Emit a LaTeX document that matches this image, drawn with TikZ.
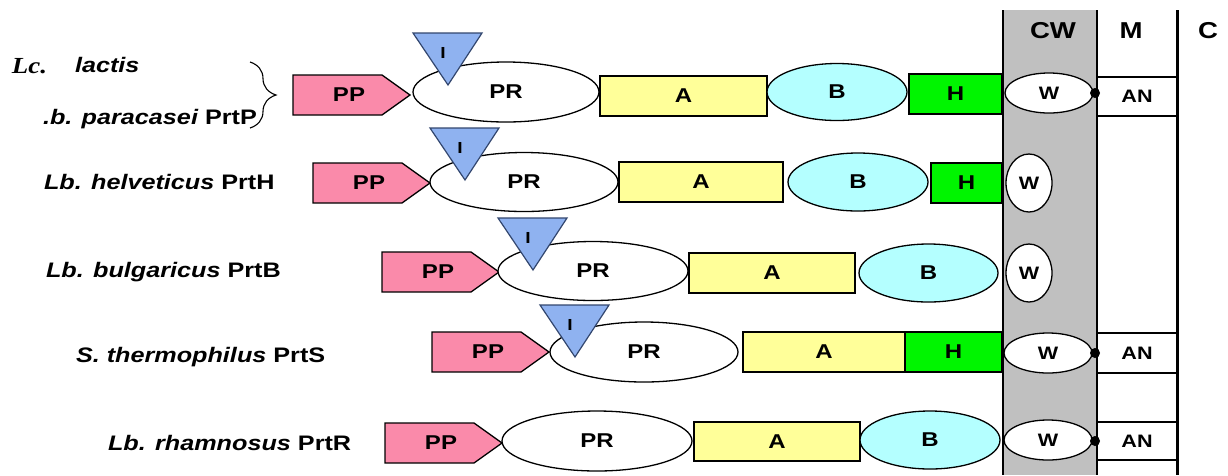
\documentclass[tikz,border=0pt]{standalone}
\usepackage{fontspec}
\usetikzlibrary{shapes.geometric,decorations.pathreplacing}
\newfontfamily\labelsans[FakeStretch=1.2]{Liberation Sans}
\newfontfamily\labelserif[FakeStretch=1.17]{Liberation Serif}
\definecolor{ppink}{RGB}{250,138,170}
\definecolor{iblue}{RGB}{143,178,240}
\definecolor{iedge}{RGB}{50,70,110}
\definecolor{ayellow}{RGB}{255,255,153}
\definecolor{bcyan}{RGB}{180,255,255}
\definecolor{hgreen}{RGB}{0,245,0}
\definecolor{wallgray}{RGB}{192,192,192}
\newcommand\boxtext{\labelsans\bfseries\fontsize{20}{22}\selectfont}
\newcommand\smalltext{\labelsans\bfseries\fontsize{16}{18}\selectfont}
\newcommand\spectext{\labelsans\bfseries\fontsize{21}{24}\selectfont}
\newcommand\headtext{\labelsans\bfseries\fontsize{23}{26}\selectfont}
\newcommand\spname[1]{{\itshape #1}}
% pro-peptide arrow: name, left x, centre y
\newcommand\propep[3]{%
  \draw[ppsty] (#2,#3-20) -- (#2+89,#3-20) -- (#2+117,#3) -- (#2+89,#3+20) -- (#2,#3+20) -- cycle;
  \node[font=\boxtext] (#1) at (#2+56,#3) {PP};}
% insert domain triangle: name, left x, top y
\newcommand\inhib[3]{%
  \draw[tri] (#2,#3) -- (#2+69,#3) -- (#2+35,#3+52) -- cycle;
  \node[font=\smalltext] (#1) at (#2+30,#3+20) {I};}
\tikzset{
  every node/.style={inner sep=0pt, outer sep=0pt},
  part/.style={draw=black, line width=1.3pt, font=\boxtext},
  pbox/.style={part, rectangle, minimum height=40pt},
  pell/.style={part, ellipse},
  prdom/.style={pell, fill=white},
  adom/.style={pbox, fill=ayellow},
  bdom/.style={pell, fill=bcyan},
  hdom/.style={pbox, fill=hgreen},
  wdom/.style={pell, fill=white, font=\labelsans\bfseries\fontsize{18}{20}\selectfont},
  anbox/.style={draw=black, line width=1.3pt, minimum width=80pt,
    font=\labelsans\bfseries\fontsize{18}{20}\selectfont},
  ppsty/.style={draw=black, line width=1.3pt, fill=ppink},
  tri/.style={draw=iedge, line width=1.2pt, fill=iblue, line join=miter},
  anchorpt/.style={circle, fill=black, minimum size=10pt},
  species/.style={anchor=base west, font=\spectext},
}
\begin{document}
\begin{tikzpicture}[x=1pt,y=-1pt]
\useasboundingbox (0,0) rectangle (1228,475);

% cell envelope: cell wall, membrane, cytoplasm
\fill[wallgray] (1003,10) rectangle (1097,475);
\draw[line width=2pt] (1003,10) -- (1003,475);
\draw[line width=1.5pt] (1097,10) -- (1097,475);
\draw[line width=3pt] (1177,10) -- (1177,475);
\node[font=\headtext] (cw) at (1053,31) {CW};
\node[font=\headtext] (mem) at (1131,31) {M};
\node[font=\headtext] (cyt) at (1208,31) {C};

% strain labels
\node[anchor=base west, font=\labelserif\bfseries\itshape\fontsize{23}{26}\selectfont] (lc) at (12,73) {Lc.};
\node[species] (lactis) at (75,72) {\spname{lactis}};
\node[species] (lbp) at (43,124) {\spname{.b. paracasei} PrtP};
\draw[line width=1.1pt, decorate, decoration={brace, amplitude=26pt, aspect=0.5}] (250,62) -- (250,128);
\node[species] (lbh) at (44,189) {\spname{Lb. helveticus} PrtH};
\node[species] (lbb) at (46,277) {\spname{Lb. bulgaricus} PrtB};
\node[species] (st) at (76,362) {\spname{S. thermophilus} PrtS};
\node[species] (lbr) at (108,450) {\spname{Lb. rhamnosus} PrtR};

% PrtP
\propep{pp1}{293}{95}
\node[prdom, minimum width=186pt, minimum height=60pt] (pr1) at (506,92) {PR};
\inhib{i1}{413}{33}
\node[adom, minimum width=167pt] (a1) at (683.5,96) {A};
\node[bdom, minimum width=140pt, minimum height=57pt] (b1) at (837,92) {B};
\node[hdom, minimum width=93pt] (h1) at (955.5,94) {H};
\node[wdom, minimum width=88pt, minimum height=40pt] (w1) at (1049,93) {W};
\node[anchorpt] (d1) at (1095,93) {};
\node[anbox, minimum height=39pt] (an1) at (1137,96.5) {AN};

% PrtH
\propep{pp2}{313}{183}
\node[prdom, minimum width=188pt, minimum height=59pt] (pr2) at (524,182) {PR};
\inhib{i2}{430}{128}
\node[adom, minimum width=164pt] (a2) at (701,182) {A};
\node[bdom, minimum width=140pt, minimum height=58pt] (b2) at (858,182) {B};
\node[hdom, minimum width=71pt] (h2) at (966.5,183) {H};
\node[wdom, minimum width=46pt, minimum height=58pt] (w2) at (1029,183) {W};

% PrtB
\propep{pp3}{382}{272}
\node[prdom, minimum width=190pt, minimum height=59pt] (pr3) at (593,271) {PR};
\inhib{i3}{498}{218}
\node[adom, minimum width=166pt] (a3) at (772,273) {A};
\node[bdom, minimum width=139pt, minimum height=58pt] (b3) at (928.5,273) {B};
\node[wdom, minimum width=46pt, minimum height=58pt] (w3) at (1029,273) {W};

% PrtS
\propep{pp4}{432}{352}
\node[prdom, minimum width=188pt, minimum height=60pt] (pr4) at (644,352) {PR};
\inhib{i4}{540}{305}
\node[adom, minimum width=162pt] (a4) at (824,352) {A};
\node[hdom, minimum width=97pt] (h4) at (953.5,352) {H};
\node[wdom, minimum width=88pt, minimum height=40pt] (w4) at (1048,353) {W};
\node[anchorpt] (d4) at (1095,353) {};
\node[anbox, minimum height=40pt] (an4) at (1137,353) {AN};

% PrtR
\propep{pp5}{385}{443}
\node[prdom, minimum width=190pt, minimum height=60pt] (pr5) at (597,441) {PR};
\node[adom, minimum width=166pt, minimum height=39pt] (a5) at (777,441.5) {A};
\node[bdom, minimum width=140pt, minimum height=58pt] (b5) at (930,440) {B};
\node[wdom, minimum width=88pt, minimum height=40pt] (w5) at (1048,440) {W};
\node[anchorpt] (d5) at (1095,441) {};
\node[anbox, minimum height=38pt] (an5) at (1137,441) {AN};
\end{tikzpicture}
\end{document}
